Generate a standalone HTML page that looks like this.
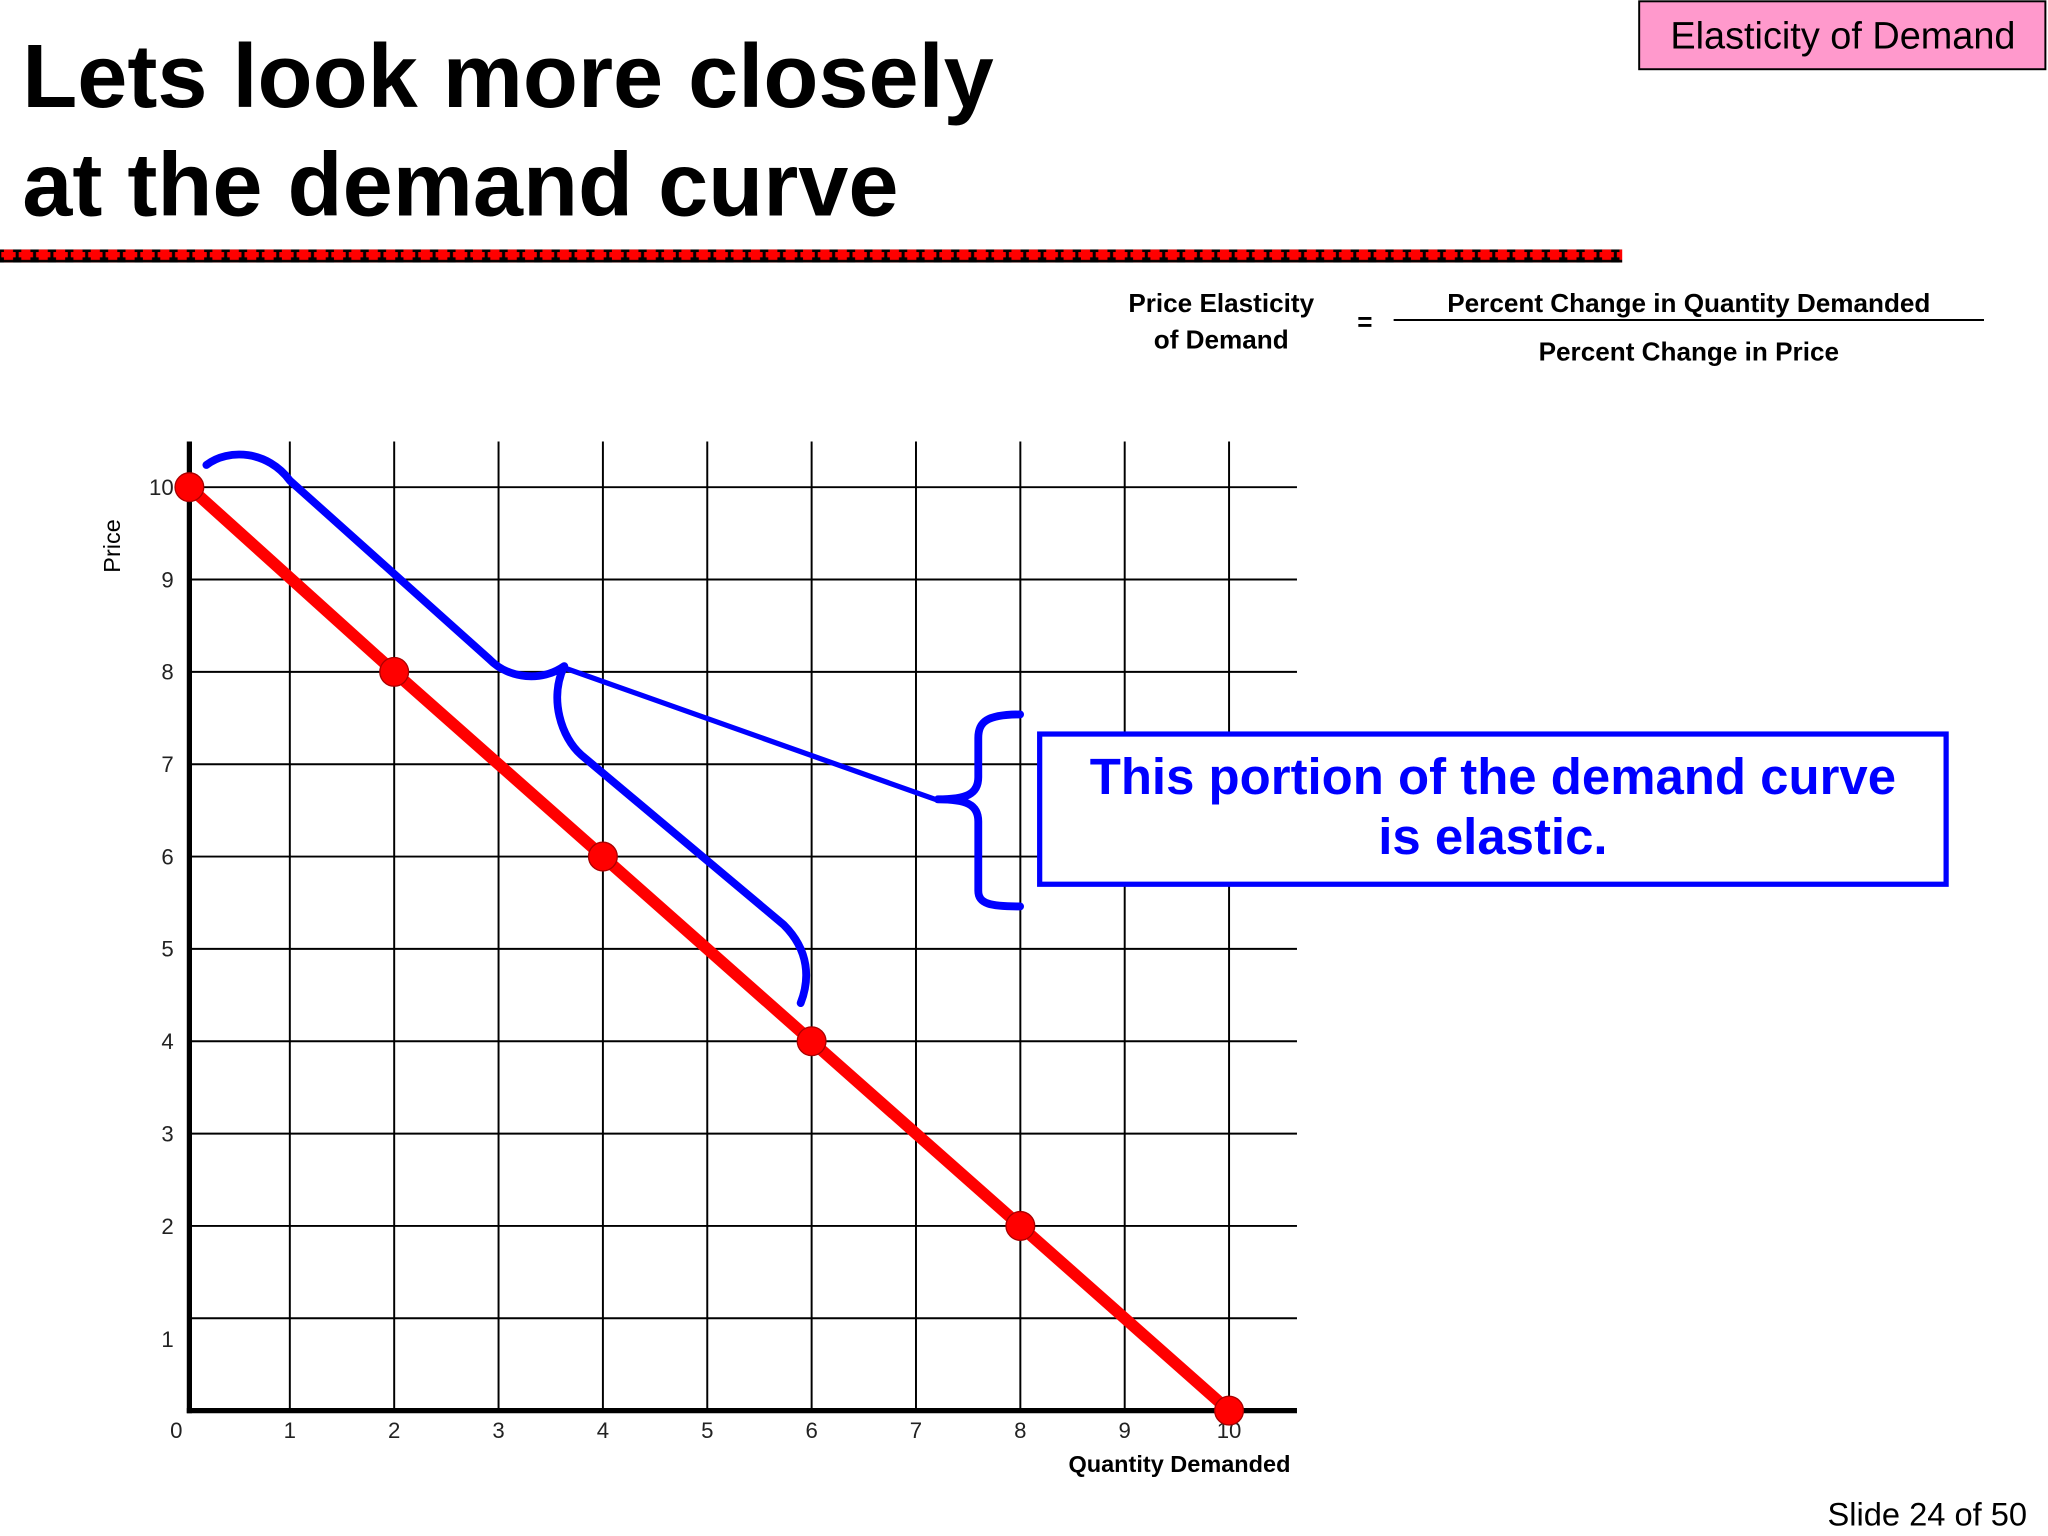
<!DOCTYPE html>
<html><head><meta charset="utf-8"><style>
html,body{margin:0;padding:0;background:#fff}
svg{display:block}
text{font-family:"Liberation Sans",sans-serif}
</style></head><body>
<svg id="chart" width="2048" height="1536" viewBox="0 0 1568 1176" xmlns="http://www.w3.org/2000/svg">
<defs>
<pattern id="dots" x="0" y="0" width="13.3" height="10" patternUnits="userSpaceOnUse">
<rect width="13.3" height="10" fill="#000"/>
<path d="M3,1 H10 V3 H12 V7 H10 V9 H3 V7 H1 V3 H3Z" fill="#f00"/>
</pattern>
</defs>
<text x="17" y="82" font-size="69" font-weight="bold">Lets look more closely</text>
<text x="17" y="165" font-size="69" font-weight="bold">at the demand curve</text>
<rect x="0" y="191" width="1242" height="10" fill="url(#dots)"/>
<g>
<rect x="1255" y="1" width="311" height="52" fill="#ff99cc" stroke="#000" stroke-width="1.5"/>
<text x="1411" y="37" font-size="29" text-anchor="middle">Elasticity of Demand</text>
</g>
<g font-size="20" font-weight="bold">
<text x="935" y="239" text-anchor="middle">Price Elasticity</text>
<text x="935" y="267" text-anchor="middle">of Demand</text>
<text x="1045" y="253" text-anchor="middle">=</text>
<text x="1293" y="239" text-anchor="middle">Percent Change in Quantity Demanded</text>
<line x1="1067" y1="245" x2="1519" y2="245" stroke="#000" stroke-width="1.5"/>
<text x="1293" y="276" text-anchor="middle">Percent Change in Price</text>
</g>
<g id="grid"></g>
<g id="ticks" font-size="17" fill="#222"></g>
<text transform="translate(92,418) rotate(-90)" font-size="18" text-anchor="middle">Price</text>
<text x="988" y="1127" font-size="18" font-weight="bold" text-anchor="end" font-family="Liberation Mono,monospace">Quantity Demanded</text>
<g id="series"></g>
<g fill="none" stroke="#00f" stroke-width="6" stroke-linecap="round" stroke-linejoin="round">
<path d="M158,356 C175,343 205,345 222,368 L375,505 C390,520 415,522 432,510 C420,535 430,565 445,578 L600,708 C620,728 620,750 613,768"/>
<path d="M434,512 L716,612" stroke-width="4"/>
<path d="M781,547 C755,547 749,553 749,565 V595 C749,608 740,612 718,612 C740,612 749,616 749,629 V682 C749,692 758,694 781,694"/>
</g>
<g>
<rect x="796" y="562" width="694" height="115" fill="#fff" stroke="#00f" stroke-width="4"/>
<text x="1143" y="608" font-size="39" font-weight="bold" fill="#00f" text-anchor="middle">This portion of the demand curve</text>
<text x="1143" y="654" font-size="39" font-weight="bold" fill="#00f" text-anchor="middle">is elastic.</text>
</g>
<text x="1552" y="1168" font-size="25" text-anchor="end">Slide 24 of 50</text>
<script>
const xTicks=[0,1,2,3,4,5,6,7,8,9,10];
const yTicks=[0,1,2,3,4,5,6,7,8,9,10];
const quantity=[0,2,4,6,8,10];
const price=[10,8,6,4,2,0];
const NS="http://www.w3.org/2000/svg";
const X=v=>142+v*79.9;
const Y=v=>1080-v*70.7;
function mk(tag,attrs,parent){const e=document.createElementNS(NS,tag);for(const k in attrs)e.setAttribute(k,attrs[k]);parent.appendChild(e);return e;}
const grid=document.getElementById('grid'),ticks=document.getElementById('ticks'),series=document.getElementById('series');
xTicks.forEach(t=>{if(t>0){const l=mk('line',{x1:X(t),y1:338,x2:X(t),y2:1080,stroke:'#000','stroke-width':1.5},grid);

}
const tx=mk('text',{x:t==0?135:X(t),y:1101,'text-anchor':'middle'},ticks);tx.textContent=t;

});
yTicks.forEach(t=>{if(t>0){const l=mk('line',{x1:145,y1:Y(t),x2:993,y2:Y(t),stroke:'#000','stroke-width':1.5},grid);

}
if(t>0){const tx=mk('text',{x:133,y:Y(t)+(t==1?22:6),'text-anchor':'end'},ticks);tx.textContent=t;

}});
const ya=mk('line',{x1:145,y1:338,x2:145,y2:1082,stroke:'#000','stroke-width':4},grid);


const xa=mk('line',{x1:143,y1:1080,x2:993,y2:1080,stroke:'#000','stroke-width':4},grid);


const pts=quantity.map((q,i)=>Math.max(X(q),145)+','+Y(price[i])).join(' ');
const pl=mk('polyline',{points:pts,fill:'none',stroke:'#f00','stroke-width':9},series);


quantity.forEach((q,i)=>{const c=mk('circle',{cx:Math.max(X(q),145),cy:Y(price[i]),r:11,fill:'#f00',stroke:'#a00','stroke-width':1},series);

});
</script>
</svg>
</body></html>
